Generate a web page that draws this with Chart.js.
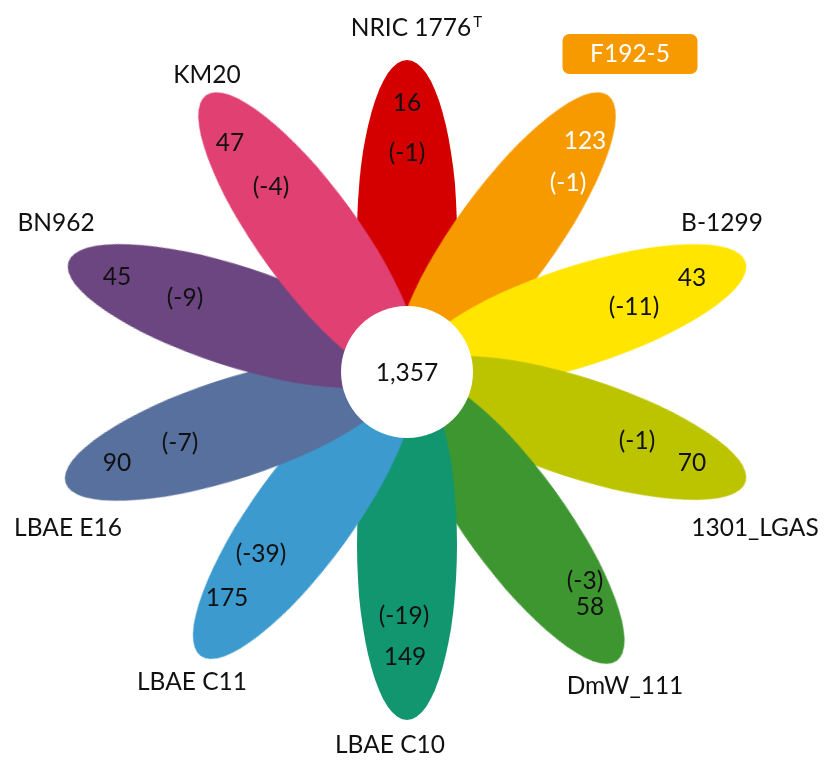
<!DOCTYPE html>
<html>
<head>
<meta charset="utf-8">
<script src="https://cdn.jsdelivr.net/npm/chart.js@4/dist/chart.umd.min.js"></script>
<style>
  html, body { margin: 0; padding: 0; background: #fff; }
  #wrap { width: 827px; height: 760px; }
</style>
</head>
<body>
<div id="wrap"><canvas id="flower" width="827" height="760"></canvas></div>
<script>
// Strains around the flower, clockwise from the top
const strains = ['NRIC 1776', 'F192-5', 'B-1299', '1301_LGAS', 'DmW_111',
                 'LBAE C10', 'LBAE C11', 'LBAE E16', 'BN962', 'KM20'];
const strainSup = ['T', '', '', '', '', '', '', '', '', ''];
// Genes unique to each strain, and the bracketed figure shown under/next to it
const uniqueGenes = [16, 123, 43, 70, 58, 149, 175, 90, 45, 47];
const missingGenes = [-1, -1, -11, -1, -3, -19, -39, -7, -9, -4];
// Genes shared by all strains (centre of the flower)
const coreGenes = 1357;

// ---- layout (pixels on an 827 x 760 canvas) ----
const CX = 407, CY = 372;              // flower centre
const PETAL_A = 175, PETAL_B = 50;     // petal semi-axes
const CORE_R = 66;
const petalAngle = [90, 54, 18, -18, -54, -90, -126, -162, 162, 126];
const petalDist  = [137, 167, 181, 181, 182, 173, 176, 184, 181, 167];
const petalColor = ['#D40000', '#F79A00', '#FFE500', '#BCC400', '#3E9630',
                    '#12966F', '#3C9ACE', '#58709E', '#6C4680', '#E04072'];
const namePos  = [[411, 27], [630, 53], [722, 222], [755, 527], [625, 685],
                  [390, 744], [192, 681], [68, 527], [56, 222], [207, 74]];
const countPos = [[407, 102], [585, 140], [692, 277], [692, 462], [590, 606],
                  [405, 656], [227, 597], [117, 462], [117, 276], [230, 142]];
const missPos  = [[407, 152], [568, 182], [634, 306], [637, 440], [585, 580],
                  [404, 615], [261, 553], [180, 442], [185, 297], [271, 186]];
const boxedName = [false, true, false, false, false, false, false, false, false, false];

const FONT = 'Lato, "Open Sans", sans-serif';
const FS = 24.5;

// one ellipse bitmap per petal, used as the point style
function petalImage(color) {
  const c = document.createElement('canvas');
  c.width = PETAL_A * 2 + 4;
  c.height = PETAL_B * 2 + 4;
  const g = c.getContext('2d');
  g.fillStyle = color;
  g.beginPath();
  g.ellipse(c.width / 2, c.height / 2, PETAL_A, PETAL_B, 0, 0, Math.PI * 2);
  g.fill();
  return c;
}

const petalPoints = petalAngle.map((deg, i) => {
  const r = deg * Math.PI / 180;
  return { x: CX + petalDist[i] * Math.cos(r), y: CY - petalDist[i] * Math.sin(r) };
});

const flowerText = {
  id: 'flowerText',
  afterDatasetsDraw(chart) {
    const { ctx } = chart;
    const sx = chart.scales.x, sy = chart.scales.y;
    const capH = FS * 0.72;
    const put = (txt, x, y, color, size) => {
      ctx.font = `${size || FS}px ${FONT}`;
      ctx.fillStyle = color;
      ctx.textAlign = 'center';
      ctx.textBaseline = 'alphabetic';
      ctx.fillText(txt, sx.getPixelForValue(x), sy.getPixelForValue(y) + capH / 2);
    };
    ctx.save();
    strains.forEach((name, i) => {
      const [nx, ny] = namePos[i];
      if (boxedName[i]) {
        const w = 135, h = 40;
        ctx.fillStyle = petalColor[i];
        ctx.beginPath();
        ctx.roundRect(sx.getPixelForValue(nx) - w / 2, sy.getPixelForValue(ny) - h / 2 + 1, w, h, 7);
        ctx.fill();
        put(name, nx, ny, '#fff');
      } else {
        put(name, nx, ny, '#111');
      }
      if (strainSup[i]) {
        ctx.font = `${FS}px ${FONT}`;
        const w = ctx.measureText(name).width;
        ctx.font = `15px ${FONT}`;
        ctx.fillStyle = '#111';
        ctx.textAlign = 'left';
        ctx.fillText(strainSup[i], sx.getPixelForValue(nx) + w / 2 + 2, sy.getPixelForValue(ny));
      }
      const numColor = boxedName[i] ? '#fff' : '#111';
      put(String(uniqueGenes[i]), countPos[i][0], countPos[i][1], numColor);
      put('(' + missingGenes[i] + ')', missPos[i][0], missPos[i][1], numColor);
    });
    put(coreGenes.toLocaleString('en-US'), CX, CY, '#111');
    ctx.restore();
  }
};

new Chart(document.getElementById('flower'), {
  type: 'scatter',
  data: {
    datasets: [
      {
        label: 'Core',
        data: [{ x: CX, y: CY }],
        pointStyle: 'circle',
        pointRadius: CORE_R,
        pointBackgroundColor: '#ffffff',
        pointBorderWidth: 0,
        order: 0
      },
      {
        label: 'Strains',
        data: petalPoints,
        pointStyle: petalColor.map(petalImage),
        pointRotation: petalAngle.map(a => -a),
        pointRadius: 5,
        pointBorderWidth: 0,
        order: 1
      }
    ]
  },
  options: {
    responsive: false,
    animation: false,
    events: [],
    layout: { padding: 0, autoPadding: false },
    plugins: { legend: { display: false }, tooltip: { enabled: false } },
    scales: {
      x: { type: 'linear', display: false, min: 0, max: 827 },
      y: { type: 'linear', display: false, min: 0, max: 760, reverse: true }
    }
  },
  plugins: [flowerText]
});
</script>
</body>
</html>
